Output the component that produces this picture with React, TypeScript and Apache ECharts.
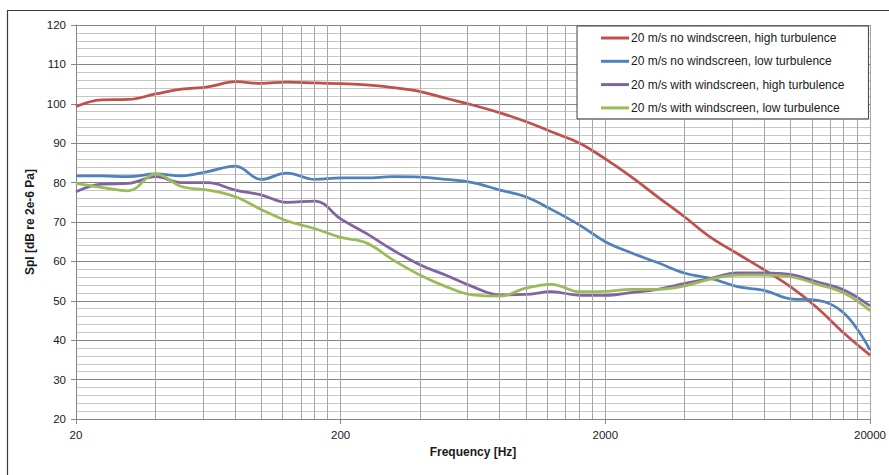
import React, { useEffect, useRef } from "react";
import * as echarts from "echarts";

// 1/3-octave band centre frequencies [Hz]
const FREQS = [20, 25, 31.5, 40, 50, 63, 80, 100, 125, 160, 200, 250, 315, 400, 500, 630, 800, 1000, 1250, 1600, 2000, 2500, 3150, 4000, 5000, 6300, 8000, 10000, 12500, 16000, 20000];

const NO_WS_HIGH = [99.3, 101.0, 101.1, 102.5, 103.7, 104.3, 105.6, 105.2, 105.5, 105.3, 105.1, 104.8, 104.1, 103.1, 101.4, 99.7, 97.7, 95.5, 92.9, 90.0, 86.0, 81.5, 76.4, 71.2, 66.1, 62.0, 57.8, 53.6, 48.5, 41.7, 36.2];
const NO_WS_LOW = [81.7, 81.7, 81.5, 82.2, 81.7, 82.8, 84.2, 80.8, 82.4, 80.8, 81.2, 81.2, 81.5, 81.4, 80.8, 80.0, 78.1, 76.4, 73.2, 69.2, 65.0, 62.2, 59.7, 57.0, 55.7, 53.6, 52.6, 50.5, 50.2, 46.8, 37.5];
const WS_HIGH = [77.7, 79.6, 79.8, 81.5, 80.0, 80.0, 78.1, 76.9, 75.0, 75.3, 70.8, 67.1, 62.9, 59.1, 56.5, 53.6, 51.5, 51.6, 52.3, 51.4, 51.4, 52.1, 52.9, 54.4, 55.7, 57.1, 57.1, 56.7, 54.9, 52.7, 48.7];
const WS_LOW = [79.8, 78.8, 77.9, 82.2, 79.0, 78.1, 76.4, 73.2, 70.3, 68.3, 66.1, 64.7, 60.4, 56.5, 53.6, 51.5, 51.2, 53.2, 54.2, 52.3, 52.4, 52.9, 52.9, 53.8, 55.5, 56.5, 56.5, 56.1, 54.3, 51.9, 47.5];

const SERIES_NAMES = [
  "20 m/s no windscreen, high turbulence",
  "20 m/s no windscreen, low turbulence",
  "20 m/s with windscreen, high turbulence",
  "20 m/s with windscreen, low turbulence",
];
const SERIES_COLORS = ["#C0504D", "#4F81BD", "#8064A2", "#9BBB59"];

const X_TICK_LABELS = ["20", "200", "2000", "20000"];
const BASE_FREQ = 20;
const DECADE_STARTS = [20, 200, 2000];
const MINOR_MULTS = [2, 3, 4, 5, 6, 7, 8, 9];

const toX = (f: number) => Math.log10(f / BASE_FREQ);

export default function App() {
  const ref = useRef<HTMLDivElement>(null);

  useEffect(() => {
    if (!ref.current) return;
    const chart = echarts.init(ref.current, undefined, { renderer: "svg" });

    const allData = [NO_WS_HIGH, NO_WS_LOW, WS_HIGH, WS_LOW];
    const minorXs: number[] = [];
    DECADE_STARTS.forEach((d) => MINOR_MULTS.forEach((m) => minorXs.push(toX(d * m))));

    const font = "'Liberation Sans', Arial, sans-serif";

    const lineSeries = allData.map((vals, i) => ({
      name: SERIES_NAMES[i],
      type: "line",
      data: FREQS.map((f, j) => [toX(f), vals[j]]),
      smooth: 0.4,
      showSymbol: false,
      symbol: "none",
      lineStyle: { color: SERIES_COLORS[i], width: 2.75 },
      itemStyle: { color: SERIES_COLORS[i] },
      emphasis: { disabled: true },
      z: 3,
    }));

    const option: any = {
      animation: false,
      backgroundColor: "#ffffff",
      textStyle: { fontFamily: font },
      grid: { left: 76, right: 18, top: 25, bottom: 56, containLabel: false },
      graphic: [
        {
          type: "rect",
          silent: true,
          z: -10,
          shape: { x: 7.5, y: 10.5, width: 1000, height: 1000 },
          style: { fill: "none", stroke: "#3a3a3a", lineWidth: 1.2 },
        },
      ],
      legend: {
        data: SERIES_NAMES,
        orient: "vertical",
        left: 577,
        top: 26,
        icon: "rect",
        itemWidth: 28,
        itemHeight: 3,
        itemGap: 11.3,
        padding: [6, 24, 5, 24],
        backgroundColor: "#ffffff",
        borderColor: "#404040",
        borderWidth: 1,
        selectedMode: false,
        textStyle: { fontFamily: font, fontSize: 12, color: "#1a1a1a", padding: [0, 0, 0, -3] },
        z: 10,
      },
      xAxis: {
        type: "value",
        min: 0,
        max: 3,
        interval: 1,
        name: "Frequency [Hz]",
        nameLocation: "middle",
        nameGap: 25,
        nameTextStyle: { fontFamily: font, fontSize: 12, fontWeight: "bold", color: "#1a1a1a" },
        axisLine: { show: true, lineStyle: { color: "#868686", width: 1 } },
        axisTick: { show: true, length: 5, lineStyle: { color: "#868686" } },
        axisLabel: {
          fontFamily: font,
          fontSize: 11.5,
          color: "#1a1a1a",
          margin: 10,
          formatter: (v: number) => X_TICK_LABELS[Math.round(v)],
        },
        splitLine: { show: true, lineStyle: { color: "#a6a6a6", width: 1 } },
      },
      yAxis: {
        type: "value",
        min: 20,
        max: 120,
        interval: 10,
        name: "Spl [dB re 2e-6 Pa]",
        nameLocation: "middle",
        nameGap: 38,
        nameTextStyle: { fontFamily: font, fontSize: 12, fontWeight: "bold", color: "#1a1a1a" },
        axisLine: { show: true, lineStyle: { color: "#868686", width: 1 } },
        axisTick: { show: true, length: 5, lineStyle: { color: "#868686" } },
        axisLabel: { fontFamily: font, fontSize: 11.5, color: "#1a1a1a", margin: 10 },
        splitLine: { show: true, lineStyle: { color: "#868686", width: 1 } },
        minorTick: { show: false, splitNumber: 5 },
        minorSplitLine: { show: true, lineStyle: { color: "#c6c6c6", width: 1 } },
      },
      series: [
        {
          name: "_minorGrid",
          type: "line",
          data: [[0, 20]],
          symbol: "none",
          showSymbol: false,
          lineStyle: { opacity: 0 },
          silent: true,
          z: 1,
          markLine: {
            silent: true,
            symbol: ["none", "none"],
            label: { show: false },
            animation: false,
            lineStyle: { color: "#a6a6a6", type: "solid", width: 1 },
            emphasis: { disabled: true },
            data: minorXs.map((x) => ({ xAxis: x })),
          },
        },
        ...lineSeries,
      ],
    };

    chart.setOption(option);
    return () => chart.dispose();
  }, []);

  return <div ref={ref} style={{ position: "fixed", left: 0, top: 0, width: 889, height: 475 }} />;
}
